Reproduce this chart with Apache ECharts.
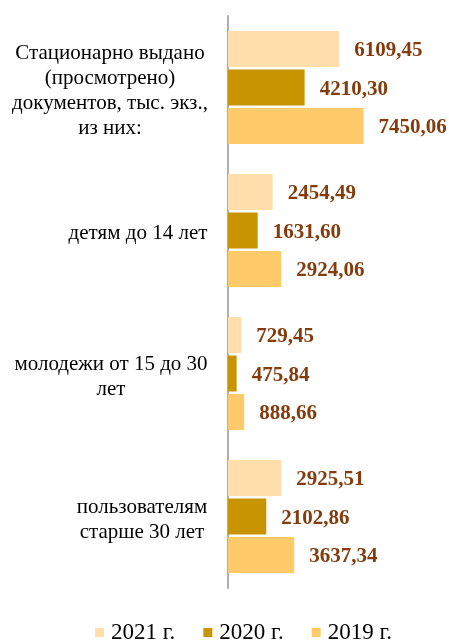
<!DOCTYPE html>
<html>
<head>
<meta charset="utf-8">
<script src="https://cdn.jsdelivr.net/npm/echarts@6/dist/echarts.min.js"></script>
<style>html,body{margin:0;padding:0;background:#fff}#c{width:449px;height:641px}</style>
</head>
<body>
<div id="c"></div>
<script>
var categories = ['Стационарно выдано\n(просмотрено)\nдокументов, тыс. экз.,\nиз них:', 'детям до 14 лет', 'молодежи от 15 до 30\nлет', 'пользователям\nстарше 30 лет'];
var labelShift = [0, 56, 2, 64];
var seriesNames = ['2021 г.', '2020 г.', '2019 г.'];
var values2021 = [6109.45, 2454.49, 729.45, 2925.51];
var values2020 = [4210.30, 1631.60, 475.84, 2102.86];
var values2019 = [7450.06, 2924.06, 888.66, 3637.34];
var colors = ['#FFDEAB', '#C89500', '#FFCA69'];

var FONT = '"Liberation Serif", "Times New Roman", serif';
var chart = echarts.init(document.getElementById('c'), null, {renderer: 'canvas'});
var data = [values2021, values2020, values2019];
function fmt(p) { return p.value.toFixed(2).replace('.', ','); }
chart.setOption({
  animation: false,
  grid: {left: 228, right: 39, top: 16, bottom: 53, containLabel: false, outerBoundsMode: 'none'},
  legend: {
    bottom: -8, left: 90,
    itemWidth: 9, itemHeight: 9, itemGap: 28,
    icon: 'rect',
    textStyle: {fontFamily: FONT, fontSize: 23, color: '#000', padding: [0, 0, 0, 2]},
    data: seriesNames
  },
  xAxis: {
    type: 'value', min: 0, max: 10000,
    show: false
  },
  yAxis: {
    type: 'category', inverse: true,
    data: categories.map(function (c, i) {
      return {value: c, textStyle: {align: 'center', verticalAlign: 'middle', padding: [0, 0, 0, labelShift[i]]}};
    }),
    axisLine: {show: true, lineStyle: {color: '#AEAEAE', width: 2}},
    axisTick: {show: false},
    axisLabel: {fontFamily: FONT, fontSize: 21, color: '#000', align: 'center', margin: 118, lineHeight: 25,
      formatter: function (v) {
        return '{s|\u200b}\n' + v.split('\n').map(function (l) { return '{t|' + l + '}'; }).join('\n');
      },
      rich: {
        s: {fontSize: 1, lineHeight: 6},
        t: {fontFamily: FONT, fontSize: 21, color: '#000', lineHeight: 25}
      }}
  },
  series: seriesNames.map(function (n, i) {
    return {
      name: n, type: 'bar', data: data[i], barWidth: 36, barGap: '7%',
      itemStyle: {color: colors[i]},
      label: {show: true, position: 'right', distance: 15, offset: [0, 2], formatter: fmt,
        fontFamily: FONT, fontSize: 21, fontWeight: 'bold', color: '#843C0C'}
    };
  })
});
</script>
</body>
</html>
